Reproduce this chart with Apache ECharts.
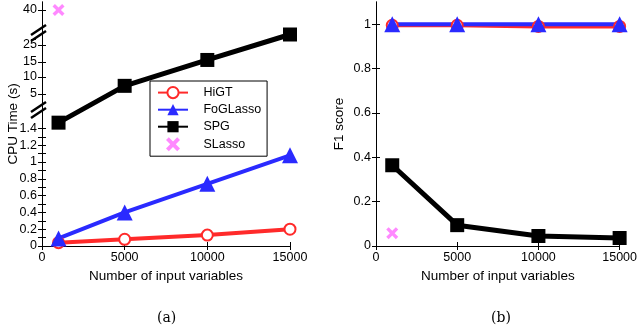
<!DOCTYPE html>
<html>
<head>
<meta charset="utf-8">
<script src="https://cdn.jsdelivr.net/npm/echarts@6/dist/echarts.min.js"></script>
<style>
  html, body { margin: 0; padding: 0; background: #fff; }
  #chart { width: 640px; height: 328px; }
</style>
</head>
<body>
<div id="chart"></div>
<script>
// x positions (number of input variables)
const xVals = [1000, 5000, 10000, 15000];

// (a) CPU time in seconds
const cpuHiGT = [0.04, 0.08, 0.13, 0.2];
const cpuFoGLasso = [0.09, 0.4, 0.74, 1.08];
const cpuSPG = [2.0, 7.4, 16.2, 29.5];
const cpuSLasso = [40];

// (b) F1 score
const f1HiGT = [0.995, 0.995, 0.99, 0.99];
const f1FoGLasso = [1, 1, 1, 1];
const f1SPG = [0.364, 0.094, 0.045, 0.036];
const f1SLasso = [0.058];

// tick labels
const cpuLabels = [0, 0.2, 0.4, 0.6, 0.8, 1, 1.2, 1.4, 5, 10, 15, 25, 40];
const f1Labels = [0, 0.2, 0.4, 0.6, 0.8, 1];

// broken axis: piecewise mapping from seconds to an internal display value
const anchors = [[0, 0], [1.4, 117.6], [5, 152], [10, 169], [15, 184], [25, 201], [40, 236]];
function toDisp(v) {
  for (let i = 1; i < anchors.length; i++) {
    const a = anchors[i - 1], b = anchors[i];
    if (v <= b[0] || i === anchors.length - 1) {
      return a[1] + (v - a[0]) / (b[0] - a[0]) * (b[1] - a[1]);
    }
  }
}
const cpuLabelPos = cpuLabels.map(toDisp);
const cpuTickPos = [];
for (let k = 0; k <= 14; k++) cpuTickPos.push(toDisp(k / 10));
[5, 10, 15, 25, 40].forEach(v => cpuTickPos.push(toDisp(v)));
function cpuFmt(val) {
  for (let i = 0; i < cpuLabelPos.length; i++) {
    if (Math.abs(cpuLabelPos[i] - val) < 0.01) return String(cpuLabels[i]);
  }
  return '';
}

const pairs = (ys, tf) => ys.map((y, i) => [xVals[i], tf ? tf(y) : y]);

const RED = '#ff2a2a', BLUE = '#2a2aff', BLACK = '#000', PINK = '#ff6bff';
const crossPath = 'path://M0,2 L2,0 L5,3 L8,0 L10,2 L7,5 L10,8 L8,10 L5,7 L2,10 L0,8 L3,5 Z';
const font = 'Liberation Sans, Arial, sans-serif';

const chart = echarts.init(document.getElementById('chart'), null, { renderer: 'canvas' });

function xAxisPair(gi) {
  return [
    {
      gridIndex: gi, type: 'value', min: 0, max: 15000, interval: 5000,
      name: 'Number of input variables', nameLocation: 'middle', nameGap: 21,
      nameTextStyle: { color: '#000', fontSize: 13.5, fontFamily: font },
      axisLine: { lineStyle: { color: '#000', width: 1 } },
      axisTick: { inside: true, length: 4, lineStyle: { color: '#000' } },
      axisLabel: { color: '#000', fontSize: 12.5, fontFamily: font, margin: 5, formatter: v => String(v) },
      splitLine: { show: false }
    },
    {
      gridIndex: gi, type: 'value', position: 'top', min: 0, max: 15000, interval: 5000,
      axisLine: { lineStyle: { color: '#000', width: 1 } },
      axisTick: { inside: true, length: 4, lineStyle: { color: '#000' } },
      axisLabel: { show: false }, splitLine: { show: false }
    }
  ];
}

const lineSeries = (name, data, color, symbol, size, xi, yi, width) => ({
  name, type: 'line', xAxisIndex: xi, yAxisIndex: yi, data,
  symbol, symbolSize: size,
  lineStyle: { color, width: width || 4 },
  itemStyle: { color, borderColor: color, borderWidth: symbol === 'emptyCircle' ? 3.5 : 0 },
  z: 3
});

const option = {
  animation: false,
  grid: [
    { left: 42, top: 2, width: 248, height: 244 },
    { left: 376, top: 2, width: 248, height: 244 }
  ],
  xAxis: [...xAxisPair(0), ...xAxisPair(1)],
  yAxis: [
    {
      gridIndex: 0, type: 'value', min: 0, max: 244,
      name: 'CPU Time (s)', nameLocation: 'middle', nameGap: 22, nameRotate: 90, nameMoveOverlap: false,
      nameTextStyle: { color: '#000', fontSize: 13.5, fontFamily: font },
      axisLine: { lineStyle: { color: '#000', width: 1 } },
      axisTick: { inside: true, length: 4, customValues: cpuTickPos, lineStyle: { color: '#000' } },
      axisLabel: { color: '#000', fontSize: 12.5, fontFamily: font, margin: 5, customValues: cpuLabelPos, formatter: cpuFmt },
      splitLine: { show: false }
    },
    {
      gridIndex: 0, type: 'value', position: 'right', min: 0, max: 244,
      axisLine: { lineStyle: { color: '#000', width: 1 } },
      axisTick: { inside: true, length: 4, customValues: cpuTickPos, lineStyle: { color: '#000' } },
      axisLabel: { show: false, customValues: cpuLabelPos }, splitLine: { show: false }
    },
    {
      gridIndex: 1, type: 'value', min: 0, max: 1.1,
      name: 'F1 score', nameLocation: 'middle', nameGap: 30, nameRotate: 90, nameMoveOverlap: false,
      nameTextStyle: { color: '#000', fontSize: 13.5, fontFamily: font },
      axisLine: { lineStyle: { color: '#000', width: 1 } },
      axisTick: { inside: true, length: 4, customValues: f1Labels, lineStyle: { color: '#000' } },
      axisLabel: { color: '#000', fontSize: 12.5, fontFamily: font, margin: 5, customValues: f1Labels },
      splitLine: { show: false }
    },
    {
      gridIndex: 1, type: 'value', position: 'right', min: 0, max: 1.1,
      axisLine: { lineStyle: { color: '#000', width: 1 } },
      axisTick: { inside: true, length: 4, customValues: f1Labels, lineStyle: { color: '#000' } },
      axisLabel: { show: false, customValues: f1Labels }, splitLine: { show: false }
    }
  ],
  legend: {
    data: ['HiGT', 'FoGLasso', 'SPG', 'SLasso'],
    orient: 'vertical', left: 150, top: 81,
    padding: [5, 6, 5, 7], itemGap: 4, itemWidth: 30, itemHeight: 14,
    backgroundColor: '#fff', borderColor: '#000', borderWidth: 1,
    formatter: name => '   ' + name,
    textStyle: { color: '#000', fontSize: 12.5, fontFamily: font }
  },
  series: [
    lineSeries('HiGT', pairs(cpuHiGT, toDisp), RED, 'emptyCircle', 11, 0, 0),
    lineSeries('FoGLasso', pairs(cpuFoGLasso, toDisp), BLUE, 'triangle', 16, 0, 0),
    lineSeries('SPG', pairs(cpuSPG, toDisp), BLACK, 'rect', 14, 0, 0, 5),
    {
      name: 'SLasso', type: 'scatter', xAxisIndex: 0, yAxisIndex: 0,
      data: [[xVals[0], toDisp(cpuSLasso[0])]],
      symbol: crossPath, symbolSize: 12, itemStyle: { color: PINK }, z: 4
    },
    lineSeries('HiGT', pairs(f1HiGT), RED, 'emptyCircle', 11, 2, 2),
    lineSeries('FoGLasso', pairs(f1FoGLasso), BLUE, 'triangle', 16, 2, 2),
    lineSeries('SPG', pairs(f1SPG), BLACK, 'rect', 14, 2, 2, 5),
    {
      name: 'SLasso', type: 'scatter', xAxisIndex: 2, yAxisIndex: 2,
      data: [[xVals[0], f1SLasso[0]]],
      symbol: crossPath, symbolSize: 12, itemStyle: { color: PINK }, z: 4
    }
  ],
  graphic: [
    // axis break marks on the left axis of (a)
    ...[32, 109].map(cy => ({
      type: 'group', z: 100,
      children: [
        { type: 'polygon', shape: { points: [[31, cy + 4], [46, cy - 6], [46, cy - 1], [31, cy + 9]] }, style: { fill: '#fff' } },
        { type: 'line', shape: { x1: 31, y1: cy + 3, x2: 46, y2: cy - 7 }, style: { stroke: '#000', lineWidth: 2.5 } },
        { type: 'line', shape: { x1: 31, y1: cy + 9, x2: 46, y2: cy - 1 }, style: { stroke: '#000', lineWidth: 2.5 } }
      ]
    })),
    { type: 'text', left: 157, top: 311, style: { text: '(a)', fill: '#000', fontSize: 14, fontFamily: 'DejaVu Serif, Liberation Serif, serif' } },
    { type: 'text', left: 491, top: 311, style: { text: '(b)', fill: '#000', fontSize: 14, fontFamily: 'DejaVu Serif, Liberation Serif, serif' } }
  ]
};

chart.setOption(option);
</script>
</body>
</html>
